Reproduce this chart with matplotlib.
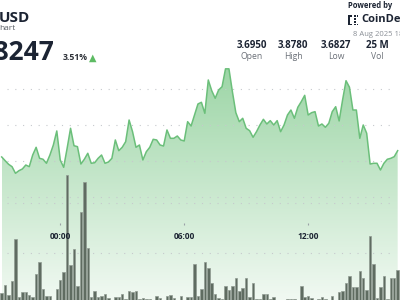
import matplotlib
matplotlib.use("Agg")
import matplotlib.pyplot as plt
import numpy as np
import pandas as pd
from matplotlib.colors import LinearSegmentedColormap
from matplotlib.patches import Rectangle

plt.rcParams['font.family'] = ['Open Sans', 'DejaVu Sans']

# 10 minute candles, 7 Aug 21:10 -> 8 Aug 16:20 UTC
times = pd.date_range("2025-08-07 21:10", periods=116, freq="10min")
hours = ((times - pd.Timestamp("2025-08-08 00:00")) / pd.Timedelta(hours=1)).to_numpy()

price = [
    3.7556, 3.7504, 3.7454, 3.7421, 3.7329, 3.7365, 3.7389, 3.7444, 3.7421, 3.7583,
    3.7690, 3.7537, 3.7524, 3.7468, 3.7583, 3.7722, 3.7917, 3.7514, 3.7412, 3.7676,
    3.7954, 3.7712, 3.7699, 3.7458, 3.7524, 3.7607, 3.7468, 3.7476, 3.7537,
    3.7583, 3.7468, 3.7486, 3.7537, 3.7792, 3.7643, 3.7690, 3.7768, 3.8069, 3.7907,
    3.7690, 3.7722, 3.7514, 3.7629, 3.7690, 3.7801, 3.7792, 3.7722, 3.7708, 3.7931,
    3.7815, 3.7815, 3.7847, 3.7792, 3.7778, 3.8046, 3.7986, 3.8139, 3.8292,
    3.8315, 3.8162, 3.8625, 3.8476, 3.8371, 3.8486, 3.8532, 3.8780, 3.8780, 3.8463,
    3.8171, 3.8046, 3.8093, 3.7954, 3.7921, 3.7829, 3.7907, 3.8000, 3.8079, 3.8014,
    3.8060, 3.8000, 3.8060, 3.7907, 3.8000, 3.8139, 3.8208, 3.8093, 3.8246,
    3.8324, 3.8412, 3.8139, 3.8171, 3.8185, 3.7986, 3.8014, 3.7968, 3.8024, 3.8185,
    3.8254, 3.8056, 3.8347, 3.8615, 3.8524, 3.8208, 3.8208, 3.7815, 3.8000, 3.7885,
    3.7458, 3.7468, 3.7468, 3.7375, 3.7468, 3.7524, 3.7537, 3.7560, 3.7643,
]

# volume per candle, millions
volume_m = [
    0.104, 0.183, 0.084, 0.223, 0.639, 0.064, 0.114, 0.114, 0.084, 0.064,
    0.292, 0.411, 0.144, 0.074, 0.074, 0.020, 0.144, 0.233, 0.312, 1.272,
    0.381, 0.540, 0.173, 0.906, 1.203, 0.550, 0.064, 0.124, 0.064, 0.074,
    0.094, 0.054, 0.020, 0.064, 0.064, 0.094, 0.045, 0.124, 0.114, 0.124,
    0.045, 0.054, 0.045, 0.045, 0.020, 0.074, 0.054, 0.020, 0.074, 0.084,
    0.054, 0.020, 0.074, 0.020, 0.064, 0.064, 0.391, 0.074,
    0.144, 0.411, 0.351, 0.203, 0.094, 0.054, 0.045, 0.173, 0.134, 0.173,
    0.252, 0.124, 0.153, 0.252, 0.064, 0.203, 0.040, 0.040, 0.094, 0.094,
    0.040, 0.064, 0.020, 0.020, 0.020, 0.045, 0.045, 0.040, 0.020, 0.173,
    0.064, 0.074, 0.054, 0.020, 0.040, 0.064, 0.040, 0.020, 0.074, 0.020,
    0.114, 0.124, 0.203, 0.272, 0.163, 0.163, 0.322, 0.252, 0.134, 0.668,
    0.391, 0.054, 0.163, 0.272, 0.040, 0.252, 0.252, 0.332,
]

price_grid = [3.70, 3.75, 3.80, 3.85]
volume_grid = [0.5, 1.0]
time_ticks = [0, 6, 12]
time_labels = ["00:00", "06:00", "12:00"]

stats_values = ["3.6950", "3.8780", "3.6827", "25 M"]
stats_labels = ["Open", "High", "Low", "Vol"]

navy = '#1c2433'
line_green = '#6bbf7a'
dots = dict(color='#c6c9cd', lw=0.8, ls=(0, (1, 6)), xmin=0.0175, xmax=0.9825)

fig = plt.figure(figsize=(4, 3), dpi=100)
ax = fig.add_axes([0, 0, 1, 1])
ylo, yhi = 3.5569, 3.9736

# gradient area under the price line
cmap = LinearSegmentedColormap.from_list('g', ['#f1f9f2', '#84cb90'])
grad = ax.imshow(np.linspace(1, 0, 256).reshape(-1, 1), cmap=cmap, aspect='auto',
                 extent=[hours[0], hours[-1], ylo, yhi], zorder=1)
area = ax.fill_between(hours, price, ylo, color='none', lw=0)
grad.set_clip_path(area.get_paths()[0], transform=ax.transData)

for p in price_grid:
    ax.axhline(p, zorder=2, **dots)
ax.plot(hours, price, color=line_green, lw=1.1, zorder=3, solid_joinstyle='round')
ax.set_xlim(-2.9156, 16.446)
ax.set_ylim(ylo, yhi)

# volume bars
ax2 = ax.twinx()
ax2.set_ylim(0.0347, 3.005)
for v in volume_grid:
    ax2.axhline(v, zorder=1, **dots)
ax2.bar(hours, volume_m, width=0.12, color='#5f6c61', edgecolor='#909b92', linewidth=0.5, zorder=2)

for a in (ax, ax2):
    a.set_xticks([])
    a.set_yticks([])
    for s in a.spines.values():
        s.set_visible(False)

# time labels in the middle of the chart, on top of the bars
sec = ax2.secondary_xaxis(1 - 224 / 300)
sec.set_zorder(5)
sec.set_xticks(time_ticks, labels=time_labels)
sec.tick_params(axis='x', length=1, width=0.8, color='#9aa0a6', direction='inout',
                pad=5.5, labelsize=6, labelcolor=navy)
for lab in sec.get_xticklabels():
    lab.set_fontweight('bold')
for s in sec.spines.values():
    s.set_visible(False)


def fx(x):
    return x / 400


def fy(y):
    return 1 - y / 300


# header, left
fig.text(fx(-1), fy(17.5), "USD", fontsize=11, fontweight='bold', color=navy, va='center')
fig.text(fx(-0.5), fy(28), "hart", fontsize=6, color='#5a5f66', va='center')
fig.text(fx(54.5), fy(60), "3.8247", fontsize=19, fontweight='bold', color=navy,
         ha='right', va='baseline')
fig.text(fx(63), fy(60.5), "3.51%", fontsize=6.2, fontweight='bold', color='#2b2f36',
         va='baseline')
fig.text(fx(92.5), fy(58), "\u25B2", fontsize=7, color='#5dbb63', ha='center', va='center',
         family='DejaVu Sans')

# header, right
fig.text(fx(348), fy(6), "Powered by", fontsize=5.5, fontweight='bold', color=navy, va='center')
for (x0, y0, w, h) in [(348, 15, 1.5, 10), (348, 15, 4, 1.5), (348, 23.5, 4, 1.5),
                       (354, 15, 1.5, 1.5), (354, 18, 1.5, 1.5), (354, 21, 1.5, 1.5),
                       (354, 23.5, 1.5, 1.5), (356.5, 15, 1.5, 1.5), (356.5, 23.5, 1.5, 1.5)]:
    fig.patches.append(Rectangle((fx(x0), fy(y0 + h)), w / 400, h / 300,
                                 transform=fig.transFigure, color=navy, lw=0))
fig.text(fx(361), fy(19.5), "CoinDesk", fontsize=8, fontweight='bold', color=navy, va='center')
fig.text(fx(353), fy(34), "8 Aug 2025 18", fontsize=5.5, color='#8a8f96', va='center')

for xc, val, lab in zip([252, 293, 336, 377], stats_values, stats_labels):
    fig.text(fx(xc), fy(46), val, fontsize=7, fontweight='bold', color=navy,
             ha='center', va='center')
    fig.text(fx(xc), fy(57), lab, fontsize=6.2, color='#6b7078', ha='center', va='center')

fig.savefig("out.png", dpi=100)
